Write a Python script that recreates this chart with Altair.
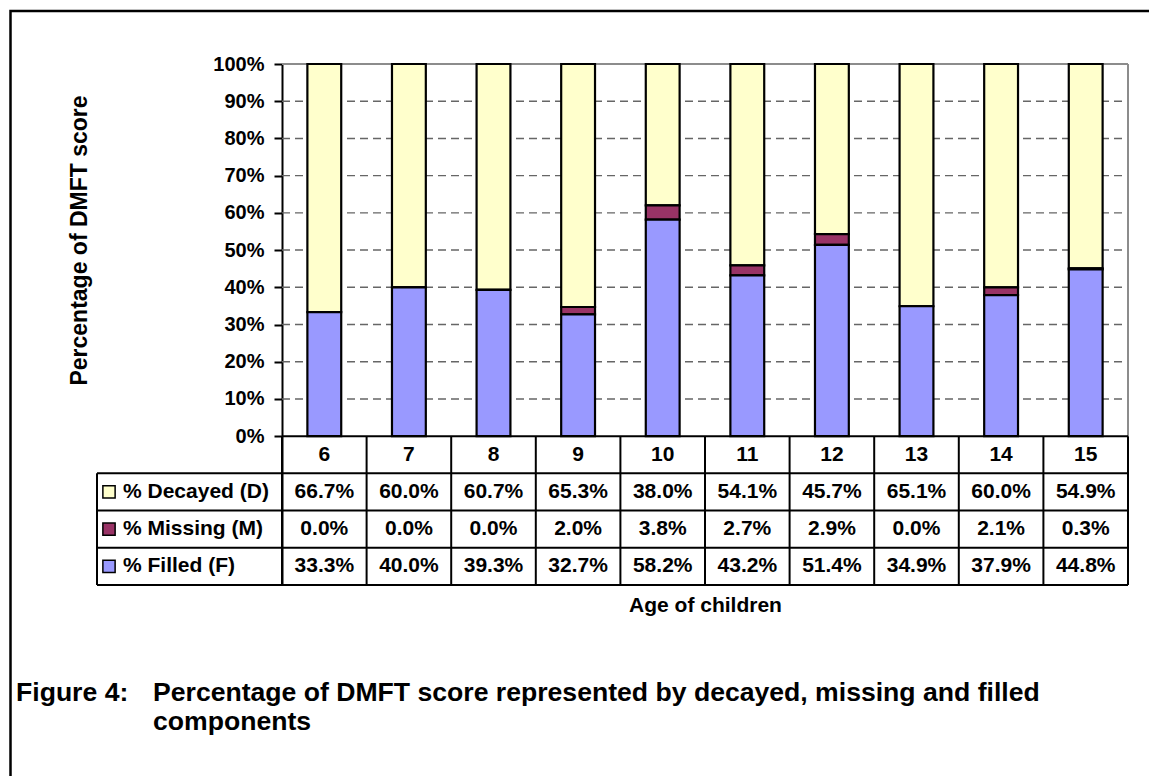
import altair as alt
import pandas as pd

# ---------------- data ----------------
ages = [6, 7, 8, 9, 10, 11, 12, 13, 14, 15]
decayed = [66.7, 60.0, 60.7, 65.3, 38.0, 54.1, 45.7, 65.1, 60.0, 54.9]
missing = [0.0, 0.0, 0.0, 2.0, 3.8, 2.7, 2.9, 0.0, 2.1, 0.3]
filled = [33.3, 40.0, 39.3, 32.7, 58.2, 43.2, 51.4, 34.9, 37.9, 44.8]

series_names = ["% Decayed (D)", "% Missing (M)", "% Filled (F)"]   # table rows, top to bottom
series_colors = ["#FFFFCC", "#993366", "#9999FF"]
stack_order = [2, 1, 0]                                             # filled at bottom
table_row_y = [-15, -25, -35]                                       # row centres below the axis
header_row_y = -5
table_lines_y = [-10, -20, -30, -40]
grid_values = [10, 20, 30, 40, 50, 60, 70, 80, 90]
y_ticks = [0, 10, 20, 30, 40, 50, 60, 70, 80, 90, 100]

y_title = "Percentage of DMFT score"
x_title = "Age of children"
caption_label = "Figure 4:"
caption_line1 = "Percentage of DMFT score represented by decayed, missing and filled"
caption_line2 = "components"

FONT = "Liberation Sans"
W, H = 846, 521

series_values = [decayed, missing, filled]
rows = []
for name, vals, order, ry in zip(series_names, series_values, stack_order, table_row_y):
    for a, v in zip(ages, vals):
        rows.append({"age": a, "series": name, "value": v, "ord": order,
                     "rowy": ry, "label": f"{v:.1f}%"})
df = pd.DataFrame(rows)

header_df = pd.DataFrame({"age": ages, "rowy": [header_row_y] * len(ages)})
legend_df = pd.DataFrame({"series": series_names, "rowy": table_row_y})
grid_df = pd.DataFrame({"y": grid_values})
hline_df = pd.DataFrame({"y": table_lines_y})
vline_df = pd.DataFrame({"age": ages, "top": [0] * len(ages), "bot": [-40] * len(ages)})
edge_df = pd.DataFrame({"top": [0], "bot": [-40], "legtop": [-10], "plottop": [100]})
zero_df = pd.DataFrame({"y": [0], "top": [100]})

x_scale = alt.Scale(type="band", paddingInner=0, paddingOuter=0)
y_scale = alt.Scale(domain=[-40, 100], nice=False, zero=False)
color_scale = alt.Scale(domain=series_names, range=series_colors)

x_axis = alt.Axis(labels=False, ticks=False, domain=False, grid=False,
                  title=x_title, titleFont=FONT, titleFontSize=21,
                  titleFontWeight="bold", titleColor="black",
                  titleY=20, titleBaseline="middle")
y_axis = alt.Axis(values=y_ticks, labelExpr="datum.value + '%'", grid=False,
                  labelFont=FONT, labelFontSize=20, labelFontWeight="bold",
                  labelColor="black", labelPadding=10,
                  tickSize=8, tickWidth=2, tickColor="black",
                  domainColor="black", domainWidth=2,
                  title=y_title, titleFont=FONT, titleFontSize=23,
                  titleFontWeight="bold", titleColor="black",
                  titleAngle=270, titleX=-203, titleY=176,
                  titleBaseline="middle", titleAlign="center")


def X(field, **kw):
    return alt.X(field, scale=x_scale, axis=x_axis, **kw)


def Y(field, **kw):
    return alt.Y(field, scale=y_scale, axis=y_axis, **kw)


# gridlines
grid = alt.Chart(grid_df).mark_rule(color="#666666", strokeWidth=1.4, strokeDash=[8, 5]).encode(
    y=Y("y:Q"), x=alt.value(0), x2=alt.value(W),
)
# grey plot border (top + right)
top_border = alt.Chart(zero_df).mark_rule(color="#8c8c8c", strokeWidth=2).encode(
    y=Y("top:Q"), x=alt.value(0), x2=alt.value(W),
)
right_border = alt.Chart(edge_df).mark_rule(color="#8c8c8c", strokeWidth=2).encode(
    y=Y("top:Q"), y2="plottop:Q", x=alt.value(W),
)

bars = alt.Chart(df).mark_bar(width={"band": 0.4}, stroke="black", strokeWidth=2.2).encode(
    x=X("age:O"),
    y=Y("value:Q", stack="zero"),
    fill=alt.Fill("series:N", scale=color_scale, legend=None),
    order=alt.Order("ord:Q"),
)

# table lines
zero_line = alt.Chart(zero_df).mark_rule(color="black", strokeWidth=2).encode(
    y=Y("y:Q"), x=alt.value(0), x2=alt.value(W),
)
hlines = alt.Chart(hline_df).mark_rule(color="black", strokeWidth=2).encode(
    y=Y("y:Q"), x=alt.value(-185), x2=alt.value(W),
)
vlines = alt.Chart(vline_df).mark_rule(color="black", strokeWidth=2).encode(
    x=X("age:O", bandPosition=0),
    y=Y("top:Q"), y2="bot:Q",
)
right_line = alt.Chart(edge_df).mark_rule(color="black", strokeWidth=2).encode(
    x=alt.value(W), y=Y("top:Q"), y2="bot:Q",
)
left_line = alt.Chart(edge_df).mark_rule(color="black", strokeWidth=2).encode(
    x=alt.value(-185), y=Y("legtop:Q"), y2="bot:Q",
)

# table texts
txt = dict(font=FONT, fontSize=21, fontWeight="bold", color="black", baseline="middle")
header_text = alt.Chart(header_df).mark_text(**txt).encode(
    x=X("age:O"), y=Y("rowy:Q"), text="age:O",
)
value_text = alt.Chart(df).mark_text(**txt).encode(
    x=X("age:O"), y=Y("rowy:Q"), text="label:N",
)
legend_sq = alt.Chart(legend_df).mark_square(size=150, stroke="black", strokeWidth=1.5,
                                             filled=True, opacity=1).encode(
    x=alt.value(-173), y=Y("rowy:Q"),
    fill=alt.Fill("series:N", scale=color_scale, legend=None),
)
legend_text = alt.Chart(legend_df).mark_text(align="left", **txt).encode(
    x=alt.value(-159), y=Y("rowy:Q"), text="series:N",
)

# outer frame
frame = alt.Chart(edge_df).mark_rect(fillOpacity=0, stroke="black", strokeWidth=2.5).encode(
    x=alt.value(-271.5), y=alt.value(-53), x2=alt.value(W + 200), y2=alt.value(H + 400),
)

# caption
cap_style = dict(font=FONT, fontSize=26.6, fontWeight="bold", color="black",
                 align="left", baseline="middle")
cap0 = alt.Chart(edge_df).mark_text(text=caption_label, **cap_style).encode(
    x=alt.value(-266), y=alt.value(629))
cap1 = alt.Chart(edge_df).mark_text(text=caption_line1, **cap_style).encode(
    x=alt.value(-129), y=alt.value(629))
cap2 = alt.Chart(edge_df).mark_text(text=caption_line2, **cap_style).encode(
    x=alt.value(-129), y=alt.value(658))

chart = alt.layer(
    grid, top_border, right_border, bars, zero_line, hlines, vlines, right_line, left_line,
    header_text, value_text, legend_sq, legend_text, frame, cap0, cap1, cap2,
).properties(
    width=W, height=H,
    autosize=alt.AutoSizeParams(type="none"),
    padding={"left": 274, "top": 56, "right": 21, "bottom": 191},
    background="white",
).configure_view(strokeWidth=0)

chart.save("out.html", embed_options={"renderer": "svg", "actions": False})
